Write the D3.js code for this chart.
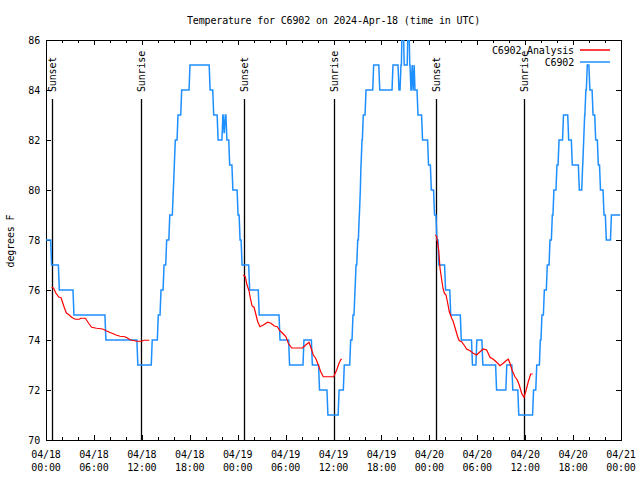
<!DOCTYPE html>
<html>
<head>
<meta charset="utf-8">
<script src="https://cdn.jsdelivr.net/npm/d3@7"></script>
<style>
  body { margin: 0; background: #fff; }
  svg { display: block; }
  text { font-family: "DejaVu Sans Mono", "Liberation Mono", monospace; font-size: 10px; letter-spacing: -0.16px; fill: #000; }
</style>
</head>
<body>
<svg id="chart" width="640" height="480"></svg>
<script>
// ---- data (hours since 2024-04-18 00:00 UTC) ----
const titleText = "Temperature for C6902 on 2024-Apr-18 (time in UTC)";
const yLabel = "degrees F";
const seriesNames = ["C6902 Analysis", "C6902"];
const yTicks = [70, 72, 74, 76, 78, 80, 82, 84, 86];

// observed temperature: [hour at which value is reached, value]
const observed = [
  [0,78],[0.7,77],[1.67,76],[3.5,75],[7.5,74],[11.5,73],[13.3,74],[14.06,75],[14.4,76],[14.78,77],
  [15.11,78],[15.5,79],[15.94,80],[16.07,81],[16.19,82],[16.53,83],[16.99,84],[18.03,85],[20.55,84],
  [21.0,83],[21.55,82],[22.15,83],[22.3,82.3],[22.45,83],[22.65,82],[23.0,81],[23.4,80],[24.05,79],
  [24.3,78],[24.55,77],[25.5,76],[26.7,75],[29.3,74],[30.5,73],[32.3,74],[33.35,73],[34.25,72],
  [35.3,71],[36.7,72],[37.35,73],[38.15,74],[38.44,75],[38.69,76],[38.82,77],[39.03,78],[39.23,79],
  [39.36,80],[39.44,81],[39.57,82],[39.73,83],[40.07,84],[41.03,85],[41.79,84],[43.45,85],[44.2,84],
  [44.45,85],[44.62,87],[44.85,85],[45.35,87],[45.55,85],[45.7,84],[45.85,85],[45.97,84],[46.1,85],
  [46.2,84],[46.58,83],[47.15,82],[47.9,81],[48.25,80],[48.65,79],[48.95,78],[49.2,77],[50.03,76],
  [50.68,75],[52.0,74],[53.4,73],[53.95,74],[54.7,73],[56.42,72],[57.7,73],[58.45,72],[59.2,71],
  [61.05,72],[61.45,73],[61.9,74],[62.1,75],[62.4,76],[62.77,77],[63.11,78],[63.4,79],[63.6,80],
  [63.98,81],[64.24,82],[64.8,83],[65.45,82],[65.9,81],[66.78,80],[67.2,81],[67.33,82],[67.45,83],
  [67.6,84],[67.78,85],[68.1,84],[68.5,83],[68.83,82],[69.16,81],[69.43,80],[69.87,79],[70.16,78],
  [70.8,79],[71.9,79]
];

// analysis series, three nightly segments: [hour, value]
const analysis1 = [
  [0.71,76.11],[0.96,76.07],[1.21,75.89],[1.59,75.72],[1.88,75.69],[2.09,75.49],[2.30,75.29],[2.55,75.08],
  [2.8,75.03],[3.21,74.91],[3.67,74.83],[4.17,74.83],[4.34,74.87],[4.92,74.87],[5.34,74.67],[5.72,74.51],
  [6.34,74.47],[7.09,74.44],[7.6,74.36],[8.1,74.29],[8.77,74.2],[9.27,74.15],[9.89,74.13],[10.19,74.08],
  [10.52,74.01],[11.36,73.95],[11.98,73.95],[12.27,73.99],[12.94,73.99]
];
const analysis2 = [
  [24.71,76.6],[24.96,76.53],[25.17,76.2],[25.42,75.97],[25.59,75.67],[25.8,75.36],[26.05,75.31],[26.3,75.0],
  [26.51,74.73],[26.8,74.53],[27.21,74.6],[27.76,74.71],[28.17,74.67],[28.59,74.56],[28.96,74.53],[29.3,74.37],
  [29.72,74.24],[30.05,74.13],[30.34,73.87],[30.77,73.68],[31.39,73.68],[32.1,73.68],[32.52,73.8],[32.93,73.91],
  [33.18,73.69],[33.47,73.4],[33.77,73.27],[34.1,73.0],[34.4,72.73],[34.72,72.53],[35.35,72.53],[36.02,72.53],
  [36.4,72.8],[36.69,73.07],[36.94,73.23],[37.06,73.23]
];
const analysis3 = [
  [48.75,78.2],[48.92,78.13],[49.17,77.6],[49.34,76.87],[49.55,76.4],[49.71,76.07],[49.88,75.87],[50.09,75.8],
  [50.3,75.47],[50.5,75.13],[50.8,74.87],[51.0,74.73],[51.3,74.4],[51.55,74.13],[51.75,73.97],[52.05,73.93],
  [52.34,73.8],[52.67,73.64],[53.09,73.57],[53.5,73.47],[53.92,73.4],[54.35,73.53],[54.76,73.64],[55.18,73.6],
  [55.6,73.31],[56.01,73.23],[56.44,73.11],[56.85,72.97],[57.26,73.07],[57.6,73.17],[57.89,73.23],[58.1,73.07],
  [58.35,72.8],[58.72,72.53],[59.01,72.4],[59.26,72.2],[59.56,71.87],[59.85,71.71],[60.1,71.97],[60.39,72.33],
  [60.69,72.64],[60.94,72.64]
];

// sun events
const sunLabels = ["Sunset", "Sunrise", "Sunset", "Sunrise", "Sunset", "Sunrise"];
const sunHours = [0.79, 11.95, 24.83, 36.0, 48.88, 59.9];

// ---- chart ----
const W = 640, H = 480;
const m = { left: 46, right: 19, top: 40, bottom: 40 };
const svg = d3.select("#chart");
const t0 = Date.UTC(2024, 3, 18, 0, 0);
const hourToDate = h => new Date(t0 + h * 3600000);

const x = d3.scaleUtc()
  .domain([hourToDate(0), hourToDate(72)])
  .range([m.left, W - m.right]);
const y = d3.scaleLinear().domain([70, 86]).range([H - m.bottom, m.top]);

const blue = "#1e8fff", red = "#ff0000";

// clip
svg.append("defs").append("clipPath").attr("id", "plotclip")
  .append("rect").attr("x", m.left).attr("y", m.top)
  .attr("width", W - m.left - m.right).attr("height", H - m.top - m.bottom);

// title
svg.append("text").attr("x", (m.left + W - m.right) / 2).attr("y", 24)
  .attr("text-anchor", "middle").text(titleText);

// y label
svg.append("text").attr("transform", "translate(11,241) rotate(-90)")
  .attr("text-anchor", "middle").attr("dominant-baseline", "middle").text(yLabel);

// axes (gnuplot-like border with inward ticks)
const gAx = svg.append("g").attr("shape-rendering", "crispEdges");
const majorTicks = x.ticks(d3.utcHour.every(6));
const minorTicks = x.ticks(d3.utcHour.every(2));

gAx.append("g").attr("transform", `translate(0,${H - m.bottom})`)
  .call(d3.axisBottom(x).tickValues(minorTicks).tickSize(-3).tickFormat(""));
gAx.append("g").attr("transform", `translate(0,${m.top})`)
  .call(d3.axisTop(x).tickValues(minorTicks).tickSize(-3).tickFormat(""));
gAx.append("g").attr("transform", `translate(0,${H - m.bottom})`)
  .call(d3.axisBottom(x).tickValues(majorTicks).tickSize(-5).tickFormat(""));
gAx.append("g").attr("transform", `translate(0,${m.top})`)
  .call(d3.axisTop(x).tickValues(majorTicks).tickSize(-5).tickFormat(""));
gAx.append("g").attr("transform", `translate(${m.left},0)`)
  .call(d3.axisLeft(y).tickValues(yTicks).tickSize(-5).tickFormat(""));
gAx.append("g").attr("transform", `translate(${W - m.right},0)`)
  .call(d3.axisRight(y).tickValues(yTicks).tickSize(-5).tickFormat(""));
gAx.selectAll(".domain").remove();
gAx.selectAll("line").attr("stroke", "#000");
gAx.append("rect").attr("x", m.left + 0.5).attr("y", m.top + 0.5)
  .attr("width", W - m.left - m.right).attr("height", H - m.top - m.bottom)
  .attr("fill", "none").attr("stroke", "#000");

// tick labels
const fDate = d3.utcFormat("%m/%d"), fTime = d3.utcFormat("%H:%M");
const xl = svg.append("g");
majorTicks.forEach(d => {
  const t = xl.append("text").attr("x", x(d)).attr("text-anchor", "middle");
  t.append("tspan").attr("x", x(d)).attr("y", 458).text(fDate(d));
  t.append("tspan").attr("x", x(d)).attr("y", 471).text(fTime(d));
});
svg.append("g").selectAll("text").data(yTicks).join("text")
  .attr("x", 40).attr("y", d => y(d)).attr("dy", "0.35em")
  .attr("text-anchor", "end").text(d => d);

// sun lines
const sg = svg.append("g");
sunHours.forEach((h, i) => {
  const sx = Math.round(x(hourToDate(h)));
  sg.append("line").attr("x1", sx + 0.5).attr("x2", sx + 0.5).attr("y1", 99).attr("y2", y(70))
    .attr("stroke", "#000").attr("stroke-width", 1.3);
  sg.append("text").attr("transform", `translate(${sx + 1},92) rotate(-90)`)
    .attr("text-anchor", "start").attr("dominant-baseline", "middle")
    .text(sunLabels[i]);
});

// observed step line
const ramp = 0.12;
const obsPts = [];
observed.forEach((p, i) => {
  obsPts.push(p);
  const nx = observed[i + 1];
  if (nx) obsPts.push([Math.max(p[0], nx[0] - ramp), p[1]]);
});
const line = d3.line().x(d => x(hourToDate(d[0]))).y(d => y(d[1]));
const plot = svg.append("g").attr("clip-path", "url(#plotclip)");
plot.append("path").datum(obsPts).attr("d", line)
  .attr("fill", "none").attr("stroke", blue).attr("stroke-width", 1.5);

[analysis1, analysis2, analysis3].forEach(seg => {
  plot.append("path").datum(seg).attr("d", line)
    .attr("fill", "none").attr("stroke", red).attr("stroke-width", 1.2);
});

// legend
const lg = svg.append("g");
[[seriesNames[0], red, 50], [seriesNames[1], blue, 62]].forEach(([name, col, ly]) => {
  lg.append("text").attr("x", 574).attr("y", ly).attr("dy", "0.35em")
    .attr("text-anchor", "end").text(name);
  lg.append("line").attr("x1", 580).attr("x2", 610).attr("y1", ly).attr("y2", ly)
    .attr("stroke", col).attr("stroke-width", 1.5);
});
</script>
</body>
</html>
